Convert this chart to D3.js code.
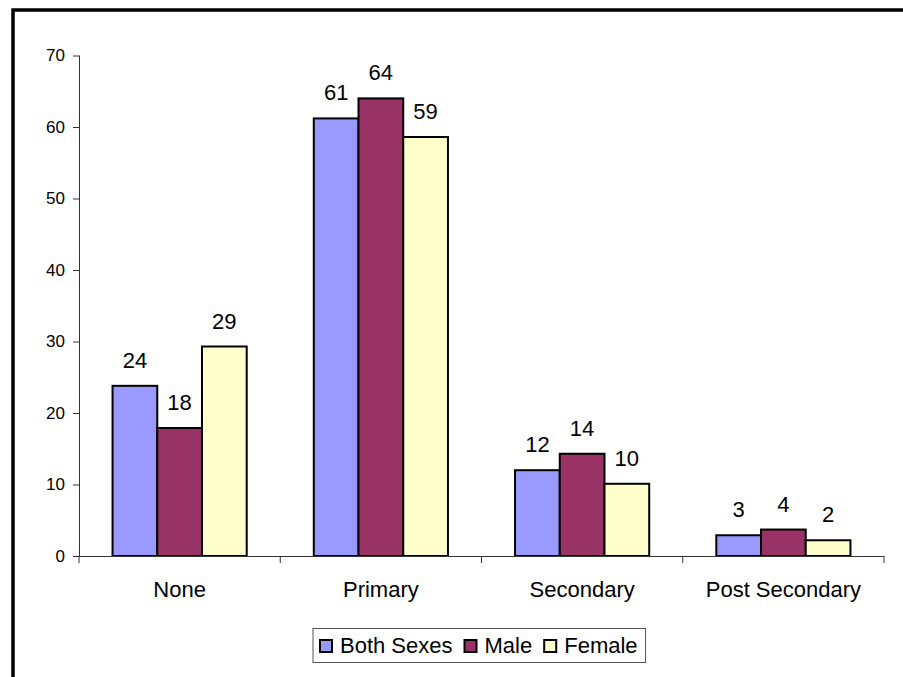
<!DOCTYPE html>
<html>
<head>
<meta charset="utf-8">
<script src="https://cdn.jsdelivr.net/npm/d3@7"></script>
<style>
    body { margin: 0; background: #fff; }
    svg { display: block; font-family: Arial, "Liberation Sans", sans-serif; }
</style>
</head>
<body>
<div id="chart"></div>
<script>
const categories = ['None', 'Primary', 'Secondary', 'Post Secondary'];
const seriesNames = ['Both Sexes', 'Male', 'Female'];
const bothSexes = [23.8, 61.2, 12.0, 2.9];
const male = [17.9, 64.0, 14.3, 3.7];
const female = [29.3, 58.6, 10.1, 2.2];
const yTicks = [0, 10, 20, 30, 40, 50, 60, 70];
const colors = ['#9999FF', '#993366', '#FFFFCC'];

const width = 903;
const height = 677;
const margin = { top: 55.5, right: 19, bottom: 121, left: 79 };
const plotW = width - margin.left - margin.right;
const plotH = height - margin.top - margin.bottom;

const svg = d3.select('#chart')
    .append('svg')
    .attr('width', width)
    .attr('height', height);

// outer frame (cut off at right and bottom like the source)
svg.append('rect')
    .attr('x', 13)
    .attr('y', 10)
    .attr('width', width + 20)
    .attr('height', height + 20)
    .attr('fill', 'none')
    .attr('stroke', '#000')
    .attr('stroke-width', 3.5);

const g = svg.append('g')
    .attr('transform', `translate(${margin.left}, ${margin.top})`);

const x0 = d3.scaleBand()
    .domain(categories)
    .range([0, plotW])
    .paddingInner(1 / 3)
    .paddingOuter(1 / 6);

const x1 = d3.scaleBand()
    .domain(seriesNames)
    .range([0, x0.bandwidth()]);

const y = d3.scaleLinear()
    .domain([0, 70])
    .range([plotH, 0]);

const rows = categories.map((c, i) => ({
    category: c,
    values: [bothSexes[i], male[i], female[i]].map((v, j) => ({ name: seriesNames[j], value: v, color: colors[j] }))
}));

// y axis
const yAxis = g.append('g')
    .call(d3.axisLeft(y).tickValues(yTicks).tickSize(6).tickPadding(8));
yAxis.selectAll('text').attr('font-size', 17).attr('fill', '#000').attr('font-family', 'Arial, "Liberation Sans", sans-serif');
yAxis.selectAll('line, path').attr('stroke', '#333');
yAxis.select('.domain').attr('d', `M0.5,0V${plotH}`);

// bars
const groups = g.selectAll('.group')
    .data(rows)
    .enter().append('g')
    .attr('class', 'group')
    .attr('transform', d => `translate(${x0(d.category)}, 0)`);

groups.selectAll('rect')
    .data(d => d.values)
    .enter().append('rect')
    .attr('x', d => x1(d.name))
    .attr('y', d => y(d.value))
    .attr('width', x1.bandwidth())
    .attr('height', d => plotH - y(d.value))
    .attr('fill', d => d.color)
    .attr('stroke', '#000')
    .attr('stroke-width', 2);

groups.selectAll('.lbl')
    .data(d => d.values)
    .enter().append('text')
    .attr('class', 'lbl')
    .attr('x', d => x1(d.name) + x1.bandwidth() / 2)
    .attr('y', d => y(d.value) - 18)
    .attr('text-anchor', 'middle')
    .attr('font-size', 22)
    .text(d => Math.round(d.value));

// x axis with ticks between categories
const xAxis = g.append('g')
    .attr('transform', `translate(0, ${plotH})`);
xAxis.append('line')
    .attr('x1', 0).attr('x2', plotW)
    .attr('y1', 0.5).attr('y2', 0.5)
    .attr('stroke', '#333');
const step = x0.step();
d3.range(categories.length + 1).forEach(i => {
    xAxis.append('line')
        .attr('x1', i * step).attr('x2', i * step)
        .attr('y1', 0).attr('y2', 7)
        .attr('stroke', '#333');
});
xAxis.selectAll('.cat')
    .data(categories)
    .enter().append('text')
    .attr('class', 'cat')
    .attr('x', d => x0(d) + x0.bandwidth() / 2)
    .attr('y', 41)
    .attr('text-anchor', 'middle')
    .attr('font-size', 22)
    .text(d => d);

// legend
const legend = svg.append('g');
const legendBox = legend.append('rect')
    .attr('x', 313)
    .attr('y', 628.5)
    .attr('height', 34)
    .attr('fill', '#fff')
    .attr('stroke', '#555')
    .attr('stroke-width', 1);
let cx = 320;
seriesNames.forEach((name, i) => {
    legend.append('rect')
        .attr('x', cx)
        .attr('y', 640)
        .attr('width', 12)
        .attr('height', 12)
        .attr('fill', colors[i])
        .attr('stroke', '#000')
        .attr('stroke-width', 2);
    const t = legend.append('text')
        .attr('x', cx + 20)
        .attr('y', 653)
        .attr('font-size', 22)
        .text(name);
    cx += 20 + t.node().getComputedTextLength() + 12;
});
legendBox.attr('width', cx - 313 - 4);
</script>
</body>
</html>
